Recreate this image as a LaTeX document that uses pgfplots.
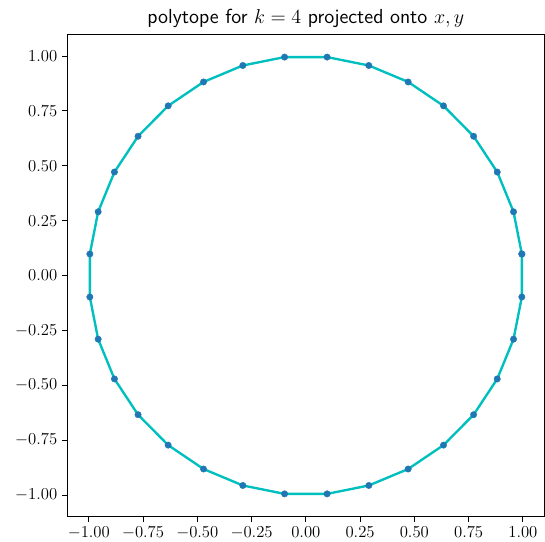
\documentclass[border=0pt]{standalone}
\usepackage{pgfplots}
\pgfplotsset{compat=1.18}
\definecolor{mcyan}{rgb}{0,0.75,0.75}
\definecolor{mblue}{HTML}{1F77B4}
\pgfplotstableread{
x y
0.9952 0.0980
0.9569 0.2903
0.8819 0.4714
0.7730 0.6344
0.6344 0.7730
0.4714 0.8819
0.2903 0.9569
0.0980 0.9952
-0.0980 0.9952
-0.2903 0.9569
-0.4714 0.8819
-0.6344 0.7730
-0.7730 0.6344
-0.8819 0.4714
-0.9569 0.2903
-0.9952 0.0980
-0.9952 -0.0980
-0.9569 -0.2903
-0.8819 -0.4714
-0.7730 -0.6344
-0.6344 -0.7730
-0.4714 -0.8819
-0.2903 -0.9569
-0.0980 -0.9952
0.0980 -0.9952
0.2903 -0.9569
0.4714 -0.8819
0.6344 -0.7730
0.7730 -0.6344
0.8819 -0.4714
0.9569 -0.2903
0.9952 -0.0980
0.9952 0.0980
}\poly
\begin{document}
\begin{tikzpicture}
\begin{axis}[
  scale only axis,
  width=343pt, height=346.8pt,
  xmin=-1.1, xmax=1.1, ymin=-1.1, ymax=1.1,
  xtick={-1,-0.75,-0.5,-0.25,0,0.25,0.5,0.75,1},
  ytick={-1,-0.75,-0.5,-0.25,0,0.25,0.5,0.75,1},
  xticklabel style={/pgf/number format/.cd,fixed,fixed zerofill,precision=2},
  yticklabel style={/pgf/number format/.cd,fixed,fixed zerofill,precision=2},
  tick label style={font=\fontsize{12}{14}\selectfont},
  tick align=outside, xtick pos=bottom, ytick pos=left,
  major tick length=3.5pt,
  every tick/.style={black, line width=0.6pt},
  axis line style={line width=0.6pt},
  title={\sffamily polytope for $k=4$ projected onto $x, y$},
  title style={font=\fontsize{14.6}{17}\selectfont, yshift=-5pt},
]
\addplot[only marks, mark=*, mark size=2.3pt,
  mark options={draw=mblue, fill=mblue, line width=0.3pt}] table {\poly};
\addplot[mcyan, line width=1.7pt] table {\poly};
\end{axis}
\pgfresetboundingbox
\path ([shift={(-48.2pt,-18pt)}]current axis.south west) rectangle ([shift={(0.3pt,24.5pt)}]current axis.north east);
\end{tikzpicture}
\end{document}
